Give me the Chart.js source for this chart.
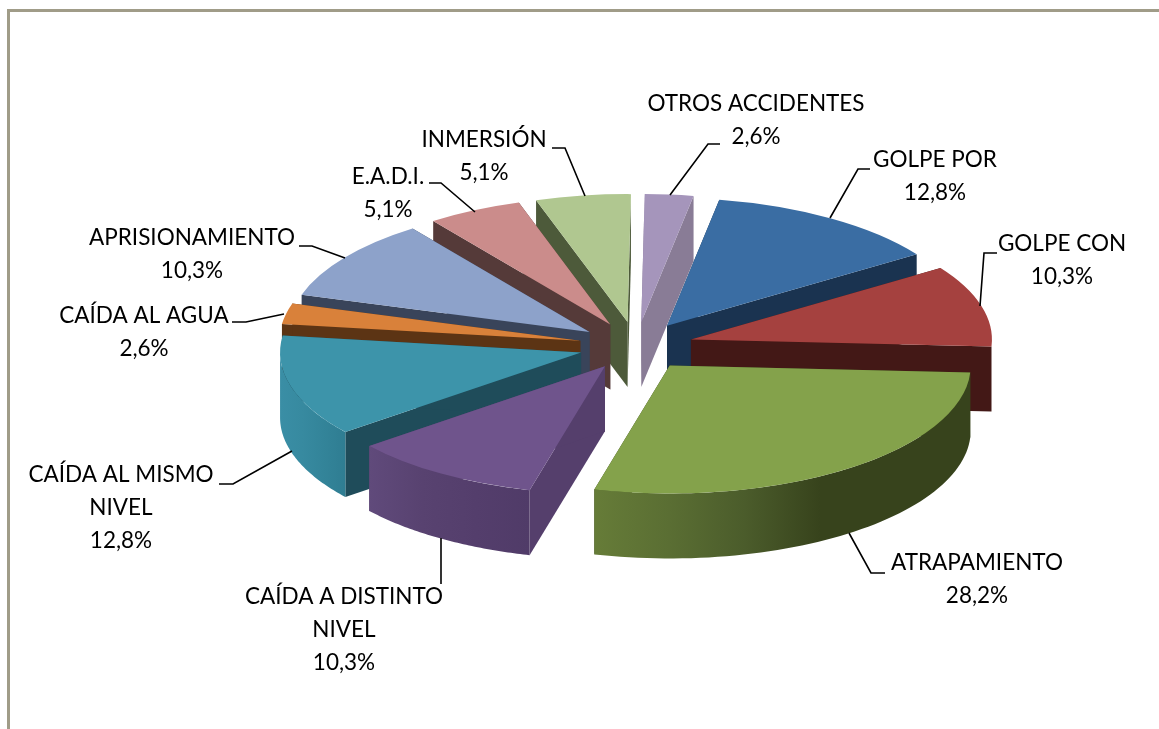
<!DOCTYPE html>
<html>
<head>
<meta charset="utf-8">
<style>
html,body{margin:0;padding:0;background:#fff;width:1159px;height:729px;overflow:hidden}
#wrap{position:absolute;left:0;top:0;width:1159px;height:729px}
#frame{position:absolute;left:7px;top:9px;width:1152px;height:720px;border-top:3px solid #a09c88;border-left:3px solid #a09c88;box-sizing:border-box}
</style>
<script src="https://cdn.jsdelivr.net/npm/chart.js@4"></script>
</head>
<body>
<div id="wrap"><div id="frame"></div><canvas id="c" width="1159" height="729"></canvas></div>
<script>
const categories = ['GOLPE POR','GOLPE CON','ATRAPAMIENTO','CAÍDA A DISTINTO NIVEL','CAÍDA AL MISMO NIVEL','CAÍDA AL AGUA','APRISIONAMIENTO','E.A.D.I.','INMERSIÓN','OTROS ACCIDENTES'];
const values = [12.8,10.3,28.2,10.3,12.8,2.6,10.3,5.1,5.1,2.6];
const topColors = ['#3a6da3','#a5413f','#84a24b','#6f548c','#3d94aa','#d9813a','#8da2ca','#cb8c8b','#b0c790','#a595bb'];
const cutColors = ['#1a3350','#431816','#37431c','#553f6c','#1f4c5a','#5c3414','#39445a','#553a39','#4d5a3a','#897c96'];
const wallStops = [
  ['#1a3350','#1a3350'],
  ['#431816','#431816'],
  ['#667c38','#5a6e33','#4b5c2b','#37431c','#37431c','#37431c'],
  ['#604a7b','#584270','#543e6c','#503b68'],
  ['#3a8ea5','#378aa0','#338499','#2f7d92'],
  ['#5c3414','#5c3414'],
  ['#39445a','#39445a'],
  ['#553a39','#553a39'],
  ['#4d5a3a','#4d5a3a'],
  ['#897c96','#897c96']
];
// Layout of the picture
const ROTATION = 10, RADIUS = 301, SQUASH = 0.425, DEPTH = 65, EXPLODE = 57;
const labelLines = [
  [['GOLPE POR'],935,167],
  [['GOLPE CON'],1062,251],
  [['ATRAPAMIENTO'],977,570],
  [['CAÍDA A DISTINTO','NIVEL'],344,604],
  [['CAÍDA AL MISMO','NIVEL'],121,482],
  [['CAÍDA AL AGUA'],144,323],
  [['APRISIONAMIENTO'],192,245],
  [['E.A.D.I.'],388,184],
  [['INMERSIÓN'],484,147],
  [['OTROS ACCIDENTES'],756,111]
];
const leaders = [
  [[870,169],[858,169],[830,218]],
  [[997,253],[984,253],[980,306]],
  [[885,573],[871,573],[849,533]],
  [[441,538],[441,584]],
  [[219,484],[233,484],[292,451]],
  [[232,322],[246,322],[284,314]],
  [[299,246],[312,246],[345,258]],
  [[429,183],[441,183],[475,212]],
  [[552,148],[565,148],[585,196]],
  [[720,144],[708,144],[670,195]]
];

const pie3d = {
  id:'pie3d',
  beforeDatasetsDraw(chart){
    const ctx = chart.ctx;
    const arcs = chart.getDatasetMeta(0).data;
    const order = arcs.map((a,i)=>i).sort((p,q)=>{
      const m = i => (arcs[i].startAngle+arcs[i].endAngle)/2;
      return Math.sin(m(p))-Math.sin(m(q));
    });
    order.forEach(i=>{
      const a = arcs[i], mid=(a.startAngle+a.endAngle)/2, r=a.outerRadius;
      const ox=a.x+Math.cos(mid)*EXPLODE, oy=a.y+Math.sin(mid)*EXPLODE*SQUASH;
      const P=(t,d)=>[ox+r*Math.cos(t), oy+SQUASH*r*Math.sin(t)+d];
      // cut faces
      [a.startAngle,a.endAngle].forEach(t=>{
        const p=P(t,0);
        ctx.beginPath();ctx.moveTo(ox,oy);ctx.lineTo(p[0],p[1]);ctx.lineTo(p[0],p[1]+DEPTH);ctx.lineTo(ox,oy+DEPTH);ctx.closePath();
        ctx.fillStyle=cutColors[i];ctx.fill();
      });
      // outer wall (visible part: the front half of the rim)
      const TAU=Math.PI*2;
      let s=a.startAngle,e=a.endAngle;
      const k=Math.floor(s/TAU); s-=k*TAU; e-=k*TAU;
      const s1=Math.max(s,0), e1=Math.min(e,Math.PI);
      if(e1>s1){
        const n=60, pts=[];
        for(let j=0;j<=n;j++)pts.push(s1+(e1-s1)*j/n);
        ctx.beginPath();
        pts.forEach((t,j)=>{const p=P(t,0);j?ctx.lineTo(p[0],p[1]):ctx.moveTo(p[0],p[1]);});
        pts.slice().reverse().forEach(t=>{const p=P(t,DEPTH);ctx.lineTo(p[0],p[1]);});
        ctx.closePath();
        const xl=Math.min(P(s1,0)[0],P(e1,0)[0]), xr=Math.max(P(s1,0)[0],P(e1,0)[0]);
        const g=ctx.createLinearGradient(xl,0,xr,0), st=wallStops[i];
        st.forEach((c,j)=>g.addColorStop(j/(st.length-1),c));
        ctx.fillStyle=g;ctx.fill();
      }
      // top face: the library's own arc element, exploded and squashed
      ctx.save();
      ctx.translate(ox,oy);
      ctx.scale(1,SQUASH);
      ctx.translate(-a.x,-a.y);
      a.draw(ctx);
      ctx.restore();
    });
    return false;
  },
  afterDraw(chart){
    const ctx=chart.ctx;
    ctx.save();
    ctx.strokeStyle='#000';ctx.lineWidth=1.6;ctx.lineJoin='miter';
    leaders.forEach(l=>{
      ctx.beginPath();
      l.forEach((p,j)=>j?ctx.lineTo(p[0],p[1]):ctx.moveTo(p[0],p[1]));
      ctx.stroke();
    });
    ctx.fillStyle='#000';
    ctx.font='22.5px Lato, "Open Sans", sans-serif';
    ctx.textAlign='center';ctx.textBaseline='alphabetic';
    labelLines.forEach((l,i)=>{
      const [lines,x,y]=l;
      lines.forEach((t,j)=>ctx.fillText(t,x,y+j*33));
      ctx.fillText(values[i].toFixed(1).replace('.',',')+'%',x,y+lines.length*33);
    });
    ctx.restore();
  }
};

new Chart(document.getElementById('c'),{
  type:'pie',
  data:{labels:categories,datasets:[{data:values,backgroundColor:topColors,borderWidth:0,hoverOffset:0}]},
  options:{
    responsive:false,animation:false,
    rotation:ROTATION,radius:RADIUS,
    layout:{padding:{left:113,right:0,top:0,bottom:37}},
    plugins:{legend:{display:false},tooltip:{enabled:false}},
    events:[]
  },
  plugins:[pie3d]
});
</script>
</body>
</html>
